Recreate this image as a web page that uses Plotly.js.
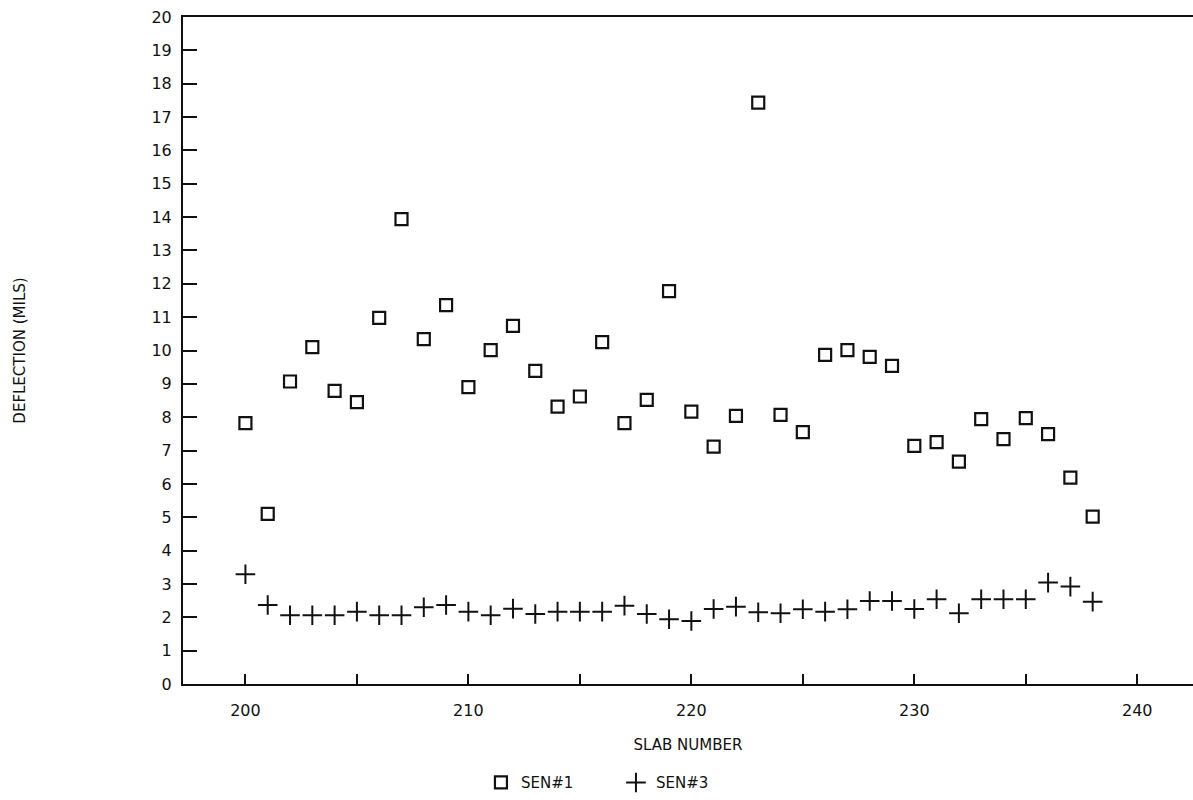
<!DOCTYPE html>
<html>
<head>
<meta charset="utf-8">
<script src="https://cdn.plot.ly/plotly-3.0.1.min.js"></script>
<style>html,body{margin:0;padding:0;background:#fff;}#chart{width:1193px;height:800px;}</style>
</head>
<body>
<div id="chart"></div>
<script>
const slabNumbers = [200,201,202,203,204,205,206,207,208,209,210,211,212,213,214,215,216,217,218,219,220,221,222,223,224,225,226,227,228,229,230,231,232,233,234,235,236,237,238];
const sen1 = [7.82,5.10,9.07,10.10,8.79,8.45,10.98,13.94,10.34,11.36,8.90,10.01,10.74,9.39,8.32,8.62,10.25,7.82,8.52,11.78,8.17,7.12,8.04,17.43,8.07,7.55,9.87,10.01,9.81,9.54,7.14,7.25,6.67,7.94,7.34,7.97,7.49,6.19,5.02];
const sen3 = [3.29,2.37,2.06,2.06,2.06,2.17,2.06,2.06,2.30,2.37,2.17,2.06,2.26,2.10,2.17,2.17,2.17,2.35,2.10,1.94,1.89,2.25,2.32,2.15,2.12,2.24,2.17,2.24,2.49,2.49,2.25,2.54,2.12,2.54,2.54,2.54,3.04,2.92,2.47];
const seriesNames = ["SEN#1", "SEN#3"];
const xTickVals = [200,210,220,230,240];
const yTickVals = [0,1,2,3,4,5,6,7,8,9,10,11,12,13,14,15,16,17,18,19,20];

const fontFam = "DejaVu Sans, Arial, sans-serif";
const traces = [
  {x: slabNumbers, y: sen1, name: seriesNames[0], type: "scatter", mode: "markers",
   marker: {symbol: "square-open", size: 12, color: "#111", line: {width: 2.2, color: "#111"}}},
  {x: slabNumbers, y: sen3, name: seriesNames[1], type: "scatter", mode: "markers",
   marker: {symbol: "cross-thin-open", size: 14, color: "#111", line: {width: 2, color: "#111"}}}
];
const layout = {
  width: 1193, height: 800,
  margin: {l: 183, r: 0, t: 17, b: 116, pad: 0},
  paper_bgcolor: "#fff", plot_bgcolor: "#fff",
  font: {family: fontFam, color: "#111", size: 15},
  showlegend: true,
  legend: {orientation: "h", x: 0.295, xanchor: "left", y: -0.148, yanchor: "middle",
           font: {size: 15, family: fontFam}, itemwidth: 30, entrywidth: 90, entrywidthmode: "pixels",
           bgcolor: "rgba(0,0,0,0)"},
  xaxis: {range: [197.2, 242.5], tickvals: xTickVals, ticktext: xTickVals.map(String),
          ticks: "inside", ticklen: 10, tickwidth: 2, tickcolor: "#111",
          minor: {tickvals: [205,215,225,235], ticks: "inside", ticklen: 10, tickwidth: 2, tickcolor: "#111"},
          showline: true, linewidth: 2, linecolor: "#111", mirror: true,
          showgrid: false, zeroline: false, ticklabelstandoff: 11,
          tickfont: {size: 16, family: fontFam},
          title: {text: "SLAB NUMBER", font: {size: 15, family: fontFam}, standoff: 20}},
  yaxis: {range: [0, 20], tickvals: yTickVals, ticktext: yTickVals.map(String),
          ticks: "inside", ticklen: 14, tickwidth: 2, tickcolor: "#111",
          showline: true, linewidth: 2, linecolor: "#111", mirror: false,
          showgrid: false, zeroline: false, ticklabelstandoff: 6,
          tickfont: {size: 16, family: fontFam},
          title: {text: "DEFLECTION (MILS)", font: {size: 15, family: fontFam}, standoff: 122}}
};
Plotly.newPlot("chart", traces, layout, {displayModeBar: false, staticPlot: true});
</script>
</body>
</html>
